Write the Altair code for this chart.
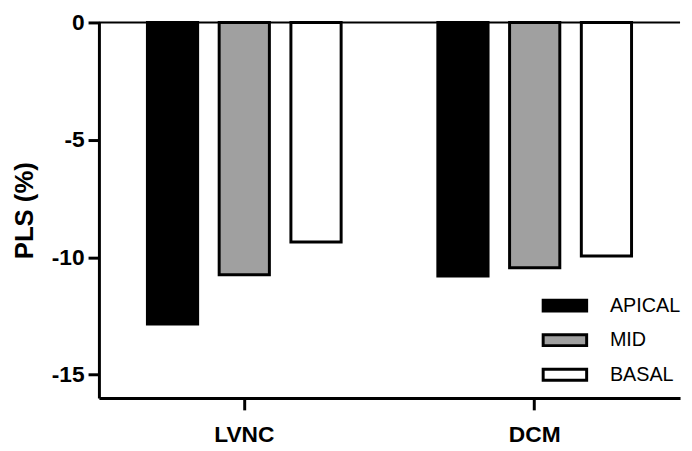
import altair as alt
import pandas as pd

groups = ["LVNC", "DCM"]
regions = ["APICAL", "MID", "BASAL"]
lvnc_values = [-12.85, -10.75, -9.35]
dcm_values = [-10.8, -10.45, -9.95]
colors = ["#000000", "#a0a0a0", "#ffffff"]
y_ticks = [0, -5, -10, -15]

rows = []
for g, vals in zip(groups, [lvnc_values, dcm_values]):
    for r, v in zip(regions, vals):
        rows.append({"group": g, "region": r, "value": v})
df = pd.DataFrame(rows)

FONT = "Liberation Sans"

bars = alt.Chart(df).mark_bar(stroke="black", strokeWidth=3, strokeJoin="miter").encode(
    x=alt.X("group:N", sort=groups, title=None,
            scale=alt.Scale(paddingInner=0.333, paddingOuter=0.167),
            axis=alt.Axis(labelAngle=0, labelFont=FONT, labelFontSize=23, labelFontWeight="bold",
                          labelColor="black", labelPadding=14, tickSize=12, tickWidth=3,
                          tickColor="black", domainColor="black", domainWidth=3, grid=False)),
    xOffset=alt.XOffset("region:N", sort=regions,
                        scale=alt.Scale(paddingInner=0.3, paddingOuter=0)),
    y=alt.Y("value:Q", title="PLS (%)",
            scale=alt.Scale(domain=[-16, 0], nice=False),
            axis=alt.Axis(values=y_ticks, labelExpr="'' + datum.value", labelFont=FONT,
                          labelFontSize=23, labelFontWeight="bold", labelColor="black",
                          labelPadding=4, tickSize=11, tickWidth=3, tickColor="black",
                          domainColor="black", domainWidth=3, grid=False, titleFont=FONT,
                          titleFontSize=26, titleFontWeight="bold", titleColor="black",
                          titlePadding=14)),
    color=alt.Color("region:N", sort=regions,
                    scale=alt.Scale(domain=regions, range=colors),
                    legend=alt.Legend(title=None, orient="none", legendX=448, legendY=263,
                                      symbolType="M-1,-0.25H1V0.25H-1Z", symbolSize=1936,
                                      symbolStrokeColor="black", symbolStrokeWidth=3,
                                      symbolOpacity=1,
                                      labelFont=FONT, labelFontSize=20, labelColor="black",
                                      labelOffset=22, rowPadding=-2, padding=0)),
)

zero = alt.Chart(pd.DataFrame({"y": [0]})).mark_rule(color="black", strokeWidth=2).encode(
    y="y:Q"
)

chart = alt.layer(bars, zero).properties(
    width=588, height=380,
    autosize=alt.AutoSizeParams(type="none"),
    padding={"left": 92, "top": 12, "right": 4, "bottom": 51},
).configure_view(stroke=None)

chart.save("out.html", embed_options={"renderer": "svg", "actions": False})
